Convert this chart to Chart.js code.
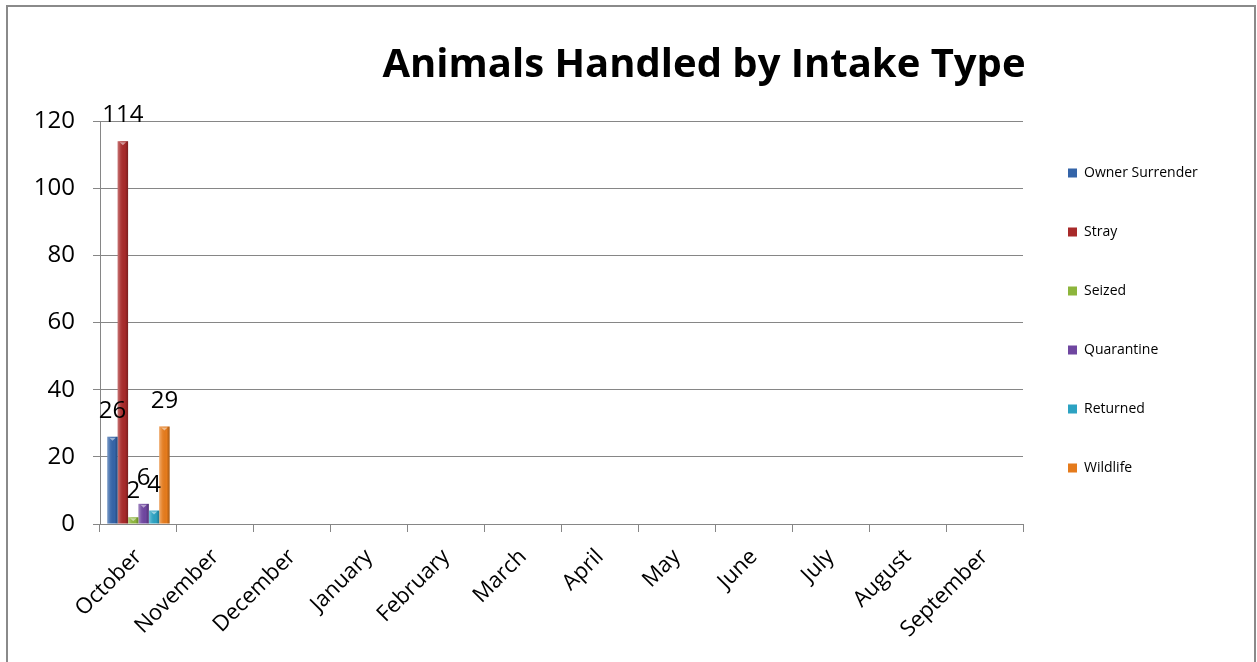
<!DOCTYPE html>
<html>
<head>
<meta charset="utf-8">
<script src="https://cdn.jsdelivr.net/npm/chart.js@4.4.1/dist/chart.umd.min.js"></script>
<style>
  html, body { margin: 0; padding: 0; background: #fff; }
  #wrap { position: relative; width: 1257px; height: 662px; overflow: hidden; }
  #frame { position: absolute; left: 6px; top: 5px; width: 1246px; height: 700px; border: 2px solid #8a8a8a; pointer-events: none; }
  canvas { position: absolute; left: 0; top: 0; }
</style>
</head>
<body>
<div id="wrap">
  <canvas id="grafico" width="1257" height="662"></canvas>
  <div id="frame"></div>
</div>
<script>
const months = ['October', 'November', 'December', 'January', 'February', 'March',
                'April', 'May', 'June', 'July', 'August', 'September']

// only October has figures so far, the other months are still empty
const ownerSurrender = [26, null, null, null, null, null, null, null, null, null, null, null]
const stray          = [114, null, null, null, null, null, null, null, null, null, null, null]
const seized         = [2, null, null, null, null, null, null, null, null, null, null, null]
const quarantine     = [6, null, null, null, null, null, null, null, null, null, null, null]
const returned       = [4, null, null, null, null, null, null, null, null, null, null, null]
const wildlife       = [29, null, null, null, null, null, null, null, null, null, null, null]

const seriesNames  = ['Owner Surrender', 'Stray', 'Seized', 'Quarantine', 'Returned', 'Wildlife']
const seriesValues = [ownerSurrender, stray, seized, quarantine, returned, wildlife]
const seriesColors = ['#3464a8', '#a82a2a', '#8db53c', '#6f46a0', '#2ca2c2', '#e57b1c']

const yTicks = [0, 20, 40, 60, 80, 100, 120]

const titleText = 'Animals Handled by Intake Type'

Chart.defaults.font.family = '"Open Sans", sans-serif'
Chart.defaults.color = '#000'

// legend sits right of the plot, work out how much room it takes
const legendPad = 45
const legendFont = 14
const m = document.createElement('canvas').getContext('2d')
m.font = legendFont + 'px "Open Sans"'
const maxLabel = Math.max(...seriesNames.map(n => m.measureText(n).width))
const legendW = legendPad + 9 + legendFont / 2 + maxLabel + 10
const padRight = Math.max(0, 1257 - 1023 - legendW)

// shading so the bars look a bit like the bevelled office bars
const bevel = {
  id: 'bevel',
  afterDatasetsDraw(chart) {
    const c = chart.ctx
    chart.data.datasets.forEach((ds, i) => {
      chart.getDatasetMeta(i).data.forEach((bar, j) => {
        if (ds.data[j] == null) return
        const { x, y, base, width } = bar.getProps(['x', 'y', 'base', 'width'], true)
        const left = x - width / 2
        const g = c.createLinearGradient(left, 0, left + width, 0)
        g.addColorStop(0, 'rgba(255,255,255,0.35)')
        g.addColorStop(0.3, 'rgba(255,255,255,0.08)')
        g.addColorStop(0.7, 'rgba(0,0,0,0)')
        g.addColorStop(1, 'rgba(0,0,0,0.28)')
        c.save()
        c.fillStyle = g
        c.fillRect(left, y, width, base - y)
        c.fillStyle = 'rgba(255,255,255,0.5)'
        c.beginPath()
        c.moveTo(left + 2, y + 1)
        c.lineTo(left + width - 2, y + 1)
        c.lineTo(x, y + 4)
        c.closePath()
        c.fill()
        c.restore()
      })
    })
  }
}

// value on top of each bar
const valueLabels = {
  id: 'valueLabels',
  afterDatasetsDraw(chart) {
    const c = chart.ctx
    c.save()
    c.font = '24px "Open Sans"'
    c.fillStyle = '#000'
    c.textAlign = 'center'
    c.textBaseline = 'alphabetic'
    chart.data.datasets.forEach((ds, i) => {
      chart.getDatasetMeta(i).data.forEach((bar, j) => {
        const v = ds.data[j]
        if (v == null) return
        c.fillText(String(v), bar.x, bar.y - 19)
      })
    })
    c.restore()
  }
}

// title is off centre in the original, so it is drawn by hand
const titlePlugin = {
  id: 'titlePlugin',
  afterDraw(chart) {
    const c = chart.ctx
    c.save()
    c.font = 'bold 40px "Open Sans"'
    c.fillStyle = '#000'
    c.textAlign = 'center'
    c.textBaseline = 'alphabetic'
    c.fillText(titleText, 704, 77)
    c.restore()
  }
}

const data = {
  labels: months,
  datasets: seriesNames.map((name, i) => ({
    label: name,
    data: seriesValues[i],
    backgroundColor: seriesColors[i],
    borderWidth: 0,
    categoryPercentage: 0.81,
    barPercentage: 1.0
  }))
}

const config = {
  type: 'bar',
  data,
  options: {
    responsive: false,
    animation: false,
    devicePixelRatio: 1,
    layout: { padding: { top: 121, right: padRight, bottom: 0, left: 0 } },
    scales: {
      x: {
        offset: true,
        grid: { drawOnChartArea: false, drawTicks: true, tickLength: 8, color: '#868686', offset: true },
        border: { color: '#868686' },
        ticks: { maxRotation: 45, minRotation: 45, color: '#000', font: { size: 22 }, padding: 12 },
        afterFit(s) { s.height = 138 }
      },
      y: {
        min: 0,
        max: 120,
        afterBuildTicks(s) { s.ticks = yTicks.map(v => ({ value: v })) },
        ticks: { color: '#000', font: { size: 24 }, padding: 18 },
        grid: { color: '#868686', tickLength: 7 },
        border: { color: '#868686' },
        afterFit(s) { s.width = 100 }
      }
    },
    plugins: {
      legend: {
        position: 'right',
        align: 'start',
        labels: {
          boxWidth: 9,
          boxHeight: 9,
          padding: legendPad,
          color: '#000',
          font: { size: legendFont }
        }
      },
      tooltip: { enabled: false }
    }
  },
  plugins: [bevel, valueLabels, titlePlugin]
}

const graph = new Chart(document.getElementById('grafico'), config)
</script>
</body>
</html>
